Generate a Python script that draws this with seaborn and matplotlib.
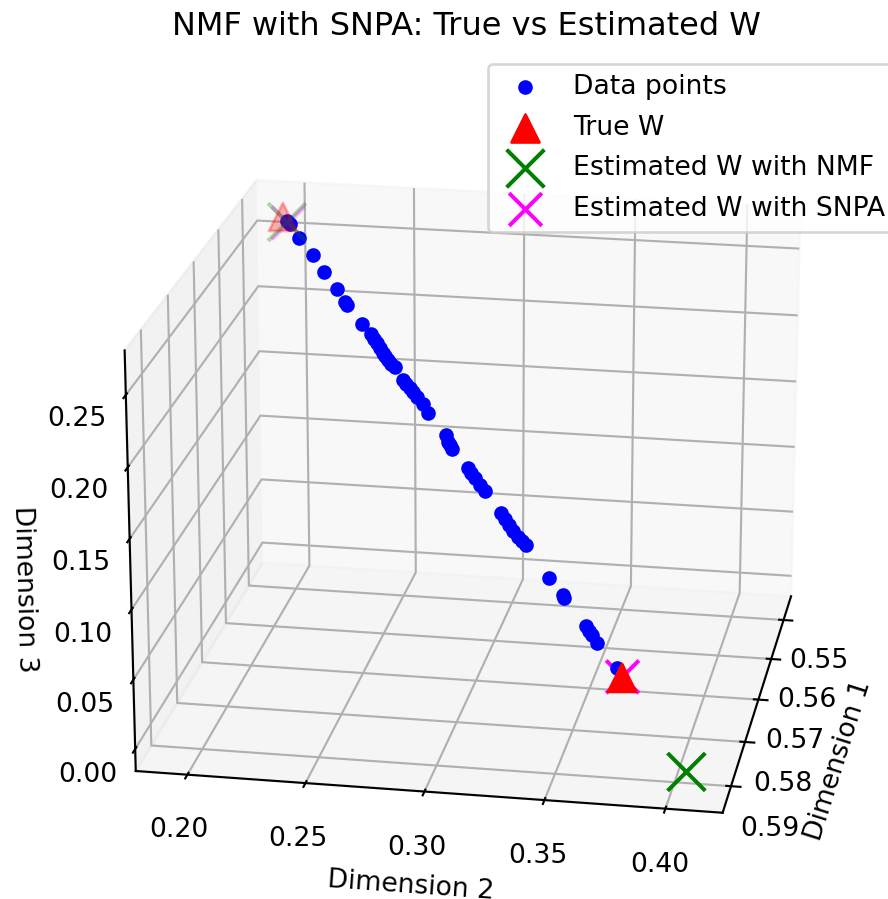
import matplotlib
matplotlib.use("Agg")
import matplotlib.pyplot as plt
import seaborn as sns

sns.set_style("ticks")
plt.rcParams.update(matplotlib.rcParamsDefault)

data_x = [.5502,.5503,.5510,.5518,.5526,.5534,.5541,.5542,.5551,.5556,.5558,.5560,.5563,.5565,.5566,.5568,.5570,.5572,.5578,.5580,.5582,.5584,.5586,.5589,.5594,.5604,.5607,.5609,.5611,.5620,.5622,.5625,.5628,.5631,.5641,.5644,.5647,.5650,.5653,.5655,.5657,.5672,.5680,.5682,.5695,.5698,.5699,.5703,.5715]
data_y = [.1984,.1999,.2046,.2117,.2174,.2239,.2281,.2291,.2367,.2411,.2427,.2442,.2457,.2473,.2483,.2498,.2513,.2532,.2573,.2589,.2608,.2623,.2643,.2673,.2699,.2788,.2799,.2809,.2820,.2898,.2914,.2933,.2958,.2983,.3062,.3082,.3102,.3122,.3146,.3166,.3185,.3298,.3366,.3372,.3479,.3494,.3508,.3533,.3629]
data_z = [.2661,.2644,.2558,.2457,.2354,.2252,.2174,.2156,.2043,.1984,.1954,.1930,.1900,.1870,.1853,.1829,.1805,.1788,.1711,.1687,.1664,.1641,.1611,.1571,.1517,.1389,.1347,.1329,.1305,.1196,.1166,.1137,.1097,.1062,.0935,.0900,.0866,.0831,.0797,.0774,.0752,.0562,.0466,.0449,.0290,.0262,.0239,.0194,.0054]
true_x = [0.55, 0.572]
true_y = [0.1964, 0.3655]
true_z = [0.2685, -0.0003]
nmf_x = [0.55, 0.593]
nmf_y = [0.1982, 0.4067]
nmf_z = [0.2649, 0.002]
snpa_x = [0.549, 0.571]
snpa_y = [0.1977, 0.3650]
snpa_z = [0.2619, -0.0026]
x_ticks = [0.55, 0.56, 0.57, 0.58, 0.59]
y_ticks = [0.20, 0.25, 0.30, 0.35, 0.40]
z_ticks = [0.00, 0.05, 0.10, 0.15, 0.20, 0.25]

fig = plt.figure(figsize=(888 / 192, 899 / 192), dpi=192)
ax = fig.add_axes([0.0233, -0.0467, 1.003, 0.997], projection="3d")
ax.scatter(data_x, data_y, data_z, c="blue", depthshade=False, label="Data points")
ax.scatter(true_x, true_y, true_z, c="red", marker="^", s=110, label="True W")
ax.scatter(nmf_x, nmf_y, nmf_z, c="green", marker="x", s=200, label="Estimated W with NMF")
ax.scatter(snpa_x, snpa_y, snpa_z, c="magenta", marker="x", s=150, label="Estimated W with SNPA")
ax.set_xlim(0.5437, 0.5958)
ax.set_ylim(0.178, 0.4235)
ax.set_zlim(-0.016, 0.2805)
ax.set_xticks(x_ticks)
ax.set_yticks(y_ticks)
ax.set_zticks(z_ticks)
ax.set_xlabel("Dimension 1")
ax.set_ylabel("Dimension 2")
ax.set_zlabel("Dimension 3")
ax.set_title("NMF with SNPA: True vs Estimated W", pad=4.5)
ax.view_init(elev=20, azim=10)
ax.legend(labelspacing=0.54, loc="upper right", bbox_to_anchor=(0.9978, 0.9967))
fig.savefig("out.png")
